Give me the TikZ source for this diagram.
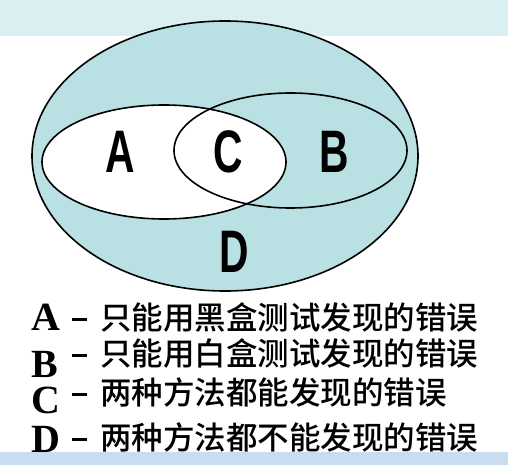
\documentclass[tikz,border=0pt]{standalone}
\usepackage{fontspec}
\usepackage{graphicx}
\usepackage{xcolor}
\newfontfamily\cjk{Noto Sans CJK SC}[UprightFont=* Medium]
\newfontfamily\keyfont{Liberation Serif}
\newfontfamily\setfont{Liberation Sans}
\definecolor{setblue}{RGB}{185,224,227}
\definecolor{bandtop}{RGB}{218,239,241}
\definecolor{bandbot}{RGB}{200,221,240}
\newcommand{\setlabel}[1]{\setfont\bfseries\fontsize{60}{60}\selectfont\scalebox{0.68}[1]{#1}}
\newcommand{\keyrule}{\rule[8pt]{15pt}{2.6pt}}

\begin{document}
\begin{tikzpicture}[x=1pt,y=-1pt]
\tikzstyle{every node}+=[inner sep=0pt]
\tikzstyle{keyletter}=[anchor=base west,text height=27pt,text depth=0pt,font=\keyfont\bfseries\fontsize{40}{40}\selectfont]
\tikzstyle{keydash}=[anchor=base west]
\tikzstyle{keytext}=[anchor=base west,font=\cjk\fontsize{31.5}{31.5}\selectfont]
\useasboundingbox (0,0) rectangle (508,465);
\fill [bandtop] (0,0) rectangle (508,36);
\fill [bandbot] (0,452) rectangle (508,465);
% outer set D, then the two inner sets
\draw [black,line width=1.6pt,fill=setblue] (225,156) ellipse [x radius=193, y radius=135];
\fill [white] (164,162) ellipse [x radius=122, y radius=57];
\draw [black,line width=1.6pt] (290.5,150.5) ellipse [x radius=116.5, y radius=57.5];
\draw [black,line width=1.6pt] (164,162) ellipse [x radius=122, y radius=57];
\node (setA) at (120.5,151.5) {\setlabel{A}};
\node (setC) at (228.5,151.5) {\setlabel{C}};
\node (setB) at (334.5,151.5) {\setlabel{B}};
\node (setD) at (234,251.5) {\setlabel{D}};
% key
\node [keyletter] (keyA) at (31,330) {A};
\node [keyletter] (keyB) at (31,377) {B};
\node [keyletter] (keyC) at (31,413) {C};
\node [keyletter] (keyD) at (31,452) {D};
\node [keydash] (dashA) at (72,329) {\keyrule};
\node [keydash] (dashB) at (72,365) {\keyrule};
\node [keydash] (dashC) at (72,404) {\keyrule};
\node [keydash] (dashD) at (72,449) {\keyrule};
\node [keytext] (textA) at (100,329) {只能用黑盒测试发现的错误};
\node [keytext] (textB) at (100,365) {只能用白盒测试发现的错误};
\node [keytext] (textC) at (100,404) {两种方法都能发现的错误};
\node [keytext] (textD) at (100,449) {两种方法都不能发现的错误};
\end{tikzpicture}
\end{document}
